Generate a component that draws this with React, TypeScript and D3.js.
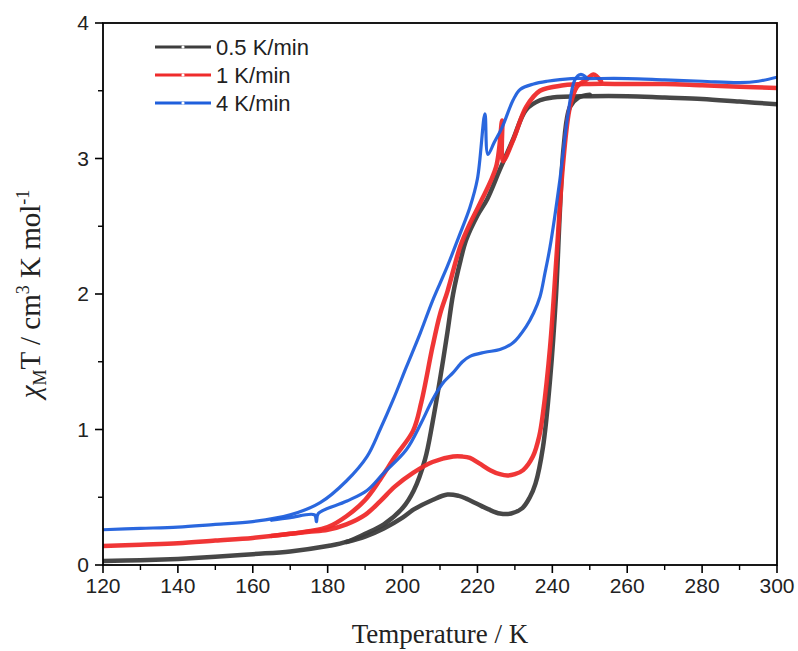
import React from "react";
import * as d3 from "d3";

// temperature (K), chi_M T (cm3 K mol-1)
const black_cool: [number, number][] = [
  [120, 0.03], [130, 0.035], [140, 0.045], [150, 0.06], [160, 0.08], [170, 0.1], [180, 0.14], [185, 0.17],
  [190, 0.23], [195, 0.3], [200, 0.42], [203, 0.55], [206, 0.78], [208, 1.05], [210, 1.37], [212, 1.72],
  [213.5, 2.0], [215.5, 2.25], [217, 2.4], [220, 2.58], [222.6, 2.7], [226, 2.92], [229.5, 3.14], [233, 3.36],
  [236.7, 3.43], [240, 3.45], [250, 3.46], [260, 3.46], [270, 3.45], [280, 3.44], [290, 3.42], [300, 3.4],
];
const black_heat: [number, number][] = [
  [185, 0.17], [190, 0.21], [195, 0.27], [200, 0.35], [203, 0.41], [208, 0.48], [212, 0.52], [215, 0.51],
  [217, 0.49], [220, 0.45], [223, 0.41], [226, 0.38], [229, 0.38], [232, 0.42], [234, 0.5], [235.5, 0.6],
  [237.5, 0.87], [239.4, 1.37], [241, 2.0], [242, 2.6], [243, 3.08], [244.7, 3.38], [247, 3.45], [250, 3.47],
];
const red_cool: [number, number][] = [
  [120, 0.14], [130, 0.15], [140, 0.16], [150, 0.18], [160, 0.2], [170, 0.23], [175, 0.25], [180, 0.28],
  [185, 0.36], [190, 0.48], [194, 0.63], [198, 0.8], [202.8, 0.99], [205, 1.2], [208, 1.61], [210, 1.85],
  [212, 2.02], [215.4, 2.35], [218, 2.52], [220.7, 2.67], [225, 2.94], [226.6, 3.28], [226.8, 2.98],
  [229.6, 3.14], [233, 3.38], [236.7, 3.5], [243, 3.54], [250, 3.55], [260, 3.55], [270, 3.55], [280, 3.54],
  [290, 3.53], [300, 3.52],
];
const red_heat: [number, number][] = [
  [165, 0.215], [170, 0.23], [175, 0.245], [180, 0.26], [185, 0.3], [190, 0.37], [194, 0.47], [198, 0.58],
  [202.8, 0.68], [208, 0.76], [213.5, 0.8], [216, 0.8], [218, 0.79], [220.5, 0.75], [223.4, 0.7], [226, 0.67],
  [228, 0.66], [230, 0.67], [232.2, 0.7], [234.8, 0.8], [236.5, 0.95], [237.5, 1.12], [239.4, 1.61],
  [241.3, 2.35], [242.9, 2.97], [244.7, 3.38], [246.6, 3.53], [249, 3.58], [251, 3.62], [253, 3.57],
];
const blue_cool: [number, number][] = [
  [120, 0.26], [130, 0.27], [140, 0.28], [150, 0.3], [160, 0.32], [170, 0.37], [178, 0.46], [185, 0.62],
  [190.5, 0.8], [194, 1.0], [197.5, 1.22], [201, 1.46], [204.7, 1.71], [208, 1.95], [211.9, 2.2], [215, 2.42],
  [218, 2.64], [220, 2.85], [222, 3.33], [222.8, 3.03], [224.5, 3.12], [226.6, 3.23], [229.5, 3.43],
  [231.4, 3.51], [235, 3.55], [238.6, 3.57], [245, 3.59], [250, 3.59], [260, 3.59], [270, 3.58], [280, 3.57],
  [290, 3.56], [295, 3.57], [300, 3.6],
];
const blue_heat: [number, number][] = [
  [165, 0.33], [170, 0.35], [176.5, 0.37], [177, 0.32], [177.5, 0.38], [185, 0.47], [190.5, 0.55], [195, 0.68],
  [201, 0.85], [205, 1.05], [208, 1.22], [211, 1.35], [213.5, 1.42], [216, 1.5], [218, 1.54], [222, 1.57],
  [226, 1.59], [229.5, 1.64], [233, 1.76], [235, 1.86], [236.7, 1.98], [238, 2.15], [239.4, 2.35],
  [242, 2.84], [244.2, 3.33], [246, 3.58], [247.5, 3.62], [249, 3.6],
];

const seriesNames = ["0.5 K/min", "1 K/min", "4 K/min"];
const seriesColors = ["#3d3d3d", "#ef2b2b", "#1f5fdc"];
const seriesWidths = [4.5, 4.5, 3.2];
const branches = [[black_cool, black_heat], [red_cool, red_heat], [blue_cool, blue_heat]];

const xTicks = [120, 140, 160, 180, 200, 220, 240, 260, 280, 300];
const yTicks = [0, 1, 2, 3, 4];

const W = 798, H = 651;
const m = { left: 103, right: 777, top: 23, bottom: 565 };

export default function App() {
  const x = d3.scaleLinear().domain([120, 300]).range([m.left, m.right]);
  const y = d3.scaleLinear().domain([0, 4]).range([m.bottom, m.top]);
  const line = d3.line<[number, number]>()
    .x(d => x(d[0]))
    .y(d => y(d[1]))
    .curve(d3.curveCatmullRom.alpha(0.5));

  const xMinor = d3.range(130, 300, 20);
  const yMinor = d3.range(0.5, 4, 1);
  const sans = "Liberation Sans, Arial, sans-serif";
  const serif = "Liberation Serif, Times New Roman, serif";

  return (
    <svg width={W} height={H} style={{ position: "absolute", left: 0, top: 0 }}>
      <rect width={W} height={H} fill="#fff" />
      <defs>
        <clipPath id="plot">
          <rect x={m.left} y={m.top} width={m.right - m.left} height={m.bottom - m.top} />
        </clipPath>
      </defs>
      <g clipPath="url(#plot)">
        {branches.map((bs, i) =>
          bs.map((b, j) => (
            <path key={i + "-" + j} d={line(b) || ""} fill="none" stroke={seriesColors[i]}
              strokeWidth={seriesWidths[i]} strokeLinejoin="round" strokeLinecap="round" opacity={0.95} />
          ))
        )}
      </g>
      {/* frame */}
      <rect x={m.left} y={m.top} width={m.right - m.left} height={m.bottom - m.top}
        fill="none" stroke="#000" strokeWidth={1.8} />
      {/* x ticks */}
      {xTicks.map(t => (
        <g key={"xt" + t}>
          <line x1={x(t)} x2={x(t)} y1={m.bottom} y2={m.bottom + 8} stroke="#000" strokeWidth={1.6} />
          <text x={x(t)} y={m.bottom + 28} textAnchor="middle" fontFamily={sans} fontSize={21} fill="#222">{t}</text>
        </g>
      ))}
      {xMinor.map(t => (
        <line key={"xm" + t} x1={x(t)} x2={x(t)} y1={m.bottom} y2={m.bottom + 5} stroke="#000" strokeWidth={1.4} />
      ))}
      {/* y ticks */}
      {yTicks.map(t => (
        <g key={"yt" + t}>
          <line x1={m.left - 8} x2={m.left} y1={y(t)} y2={y(t)} stroke="#000" strokeWidth={1.6} />
          <text x={m.left - 14} y={y(t) + 7} textAnchor="end" fontFamily={sans} fontSize={21} fill="#222">{t}</text>
        </g>
      ))}
      {yMinor.map(t => (
        <line key={"ym" + t} x1={m.left - 5} x2={m.left} y1={y(t)} y2={y(t)} stroke="#000" strokeWidth={1.4} />
      ))}
      {/* axis titles */}
      <text x={(m.left + m.right) / 2} y={643} textAnchor="middle" fontFamily={serif} fontSize={27} fill="#222">
        Temperature / K
      </text>
      <text transform={`translate(40, ${(m.top + m.bottom) / 2}) rotate(-90)`} textAnchor="middle"
        fontFamily={serif} fontSize={29} fill="#222">
        <tspan fontStyle="italic">χ</tspan>
        <tspan fontSize={18} dy={6}>M</tspan>
        <tspan dy={-6}>T / cm</tspan>
        <tspan fontSize={18} dy={-11}>3</tspan>
        <tspan dy={11}> K mol</tspan>
        <tspan fontSize={18} dy={-11}>-1</tspan>
      </text>
      {/* legend */}
      {seriesNames.map((n, i) => {
        const ly = 47 + i * 28;
        return (
          <g key={n}>
            <line x1={155} x2={211} y1={ly} y2={ly} stroke={seriesColors[i]} strokeWidth={2.8} />
            <circle cx={183} cy={ly} r={1.6} fill="#fff" />
            <text x={216} y={ly + 8} fontFamily={sans} fontSize={22} fill="#222">{n}</text>
          </g>
        );
      })}
    </svg>
  );
}
